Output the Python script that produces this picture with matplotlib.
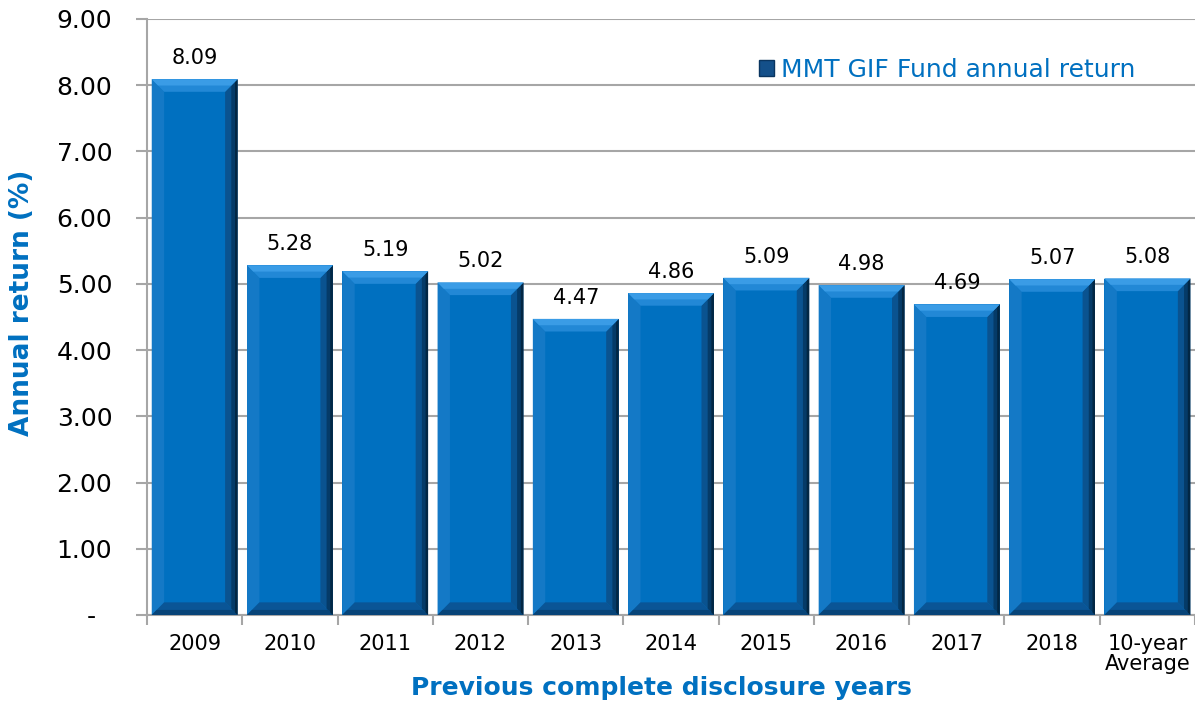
import matplotlib.pyplot as plt
from matplotlib.patches import Polygon, Patch

# data
categories = ["2009", "2010", "2011", "2012", "2013", "2014", "2015",
              "2016", "2017", "2018", "10-year\nAverage"]
returns = [8.09, 5.28, 5.19, 5.02, 4.47, 4.86, 5.09, 4.98, 4.69, 5.07, 5.08]
y_ticks = [0, 1, 2, 3, 4, 5, 6, 7, 8, 9]
y_tick_labels = ["-  "] + ["%.2f" % v for v in y_ticks[1:]]

BLUE = "#0070C0"
TEXT_BLUE = "#0070C0"
GRID = "#A6A6A6"

fig = plt.figure(figsize=(11.95, 7.02), dpi=100)
ax = fig.add_axes([0.123, 0.124, 0.877, 0.849])

x = list(range(len(categories)))
width = 0.9
bars = ax.bar(x, returns, width=width, color=BLUE, zorder=3)

# bevel look on each bar
dx, dy = 0.13, 0.19
for rect in bars:
    x0 = rect.get_x()
    x1 = x0 + rect.get_width()
    h = rect.get_height()
    faces = [
        ([(x0, 0), (x0, h), (x0 + dx, h - dy), (x0 + dx, dy)], "#1479C6"),
        ([(x0, 0), (x1, 0), (x1 - dx, dy), (x0 + dx, dy)], "#0A5596"),
        ([(x0, 0), (x1, 0), (x1 - dx * 0.4, dy * 0.4), (x0 + dx * 0.4, dy * 0.4)], "#074478"),
        ([(x1, 0), (x1, h), (x1 - dx, h - dy), (x1 - dx, dy)], "#0A5390"),
        ([(x1, 0), (x1, h), (x1 - dx * 0.5, h - dy * 0.5), (x1 - dx * 0.5, dy * 0.5)], "#053B68"),
        ([(x1, 0), (x1, h), (x1 - dx * 0.2, h - dy * 0.2), (x1 - dx * 0.2, dy * 0.2)], "#022744"),
        ([(x0, h), (x1, h), (x1 - dx, h - dy), (x0 + dx, h - dy)], "#2288D6"),
        ([(x0, h), (x1, h), (x1 - dx * 0.5, h - dy * 0.5), (x0 + dx * 0.5, h - dy * 0.5)], "#3A9CE6"),
    ]
    for pts, c in faces:
        ax.add_patch(Polygon(pts, closed=True, facecolor=c, edgecolor="none", zorder=4))
    ax.text(rect.get_x() + rect.get_width() / 2, h + 0.17, "%.2f" % h,
            ha="center", va="bottom", fontsize=15, color="black", zorder=5)

ax.set_xlim(-0.5, len(categories) - 0.5)
ax.set_ylim(0, 9)
ax.set_yticks(y_ticks)
ax.set_yticklabels(y_tick_labels, fontsize=18)
ax.yaxis.grid(True, color=GRID, linewidth=1.5, zorder=0)
ax.set_axisbelow(True)

ax.set_xticks(x)
ax.set_xticklabels(categories, fontsize=15, linespacing=1.0, va="top")
ax.set_xticks([i - 0.5 for i in range(len(categories) + 1)], minor=True)
ax.tick_params(axis="x", which="major", length=0, pad=14)
ax.tick_params(axis="x", which="minor", length=7, color=GRID, width=1.5)
ax.tick_params(axis="y", length=8, color=GRID, width=1.5, pad=17)

for side in ["top", "right"]:
    ax.spines[side].set_visible(False)
for side in ["left", "bottom"]:
    ax.spines[side].set_color(GRID)
    ax.spines[side].set_linewidth(1.5)

fig.text(22 / 1195, 1 - 303 / 702, "Annual return (%)", rotation=90, ha="center", va="center",
         fontsize=19, fontweight="bold", color=TEXT_BLUE)
fig.text(0.5535, 1 - 688 / 702, "Previous complete disclosure years", ha="center", va="center",
         fontsize=18, fontweight="bold", color=TEXT_BLUE)

handle = Patch(facecolor="#14508A", edgecolor="#0A3560")
ax.legend([handle], ["MMT GIF Fund annual return"], loc="center right",
          bbox_to_anchor=(0.965, 0.915), frameon=False, fontsize=18,
          labelcolor=TEXT_BLUE, handlelength=0.6, handleheight=0.6, handletextpad=0.3)

fig.savefig("out.png", dpi=100)
